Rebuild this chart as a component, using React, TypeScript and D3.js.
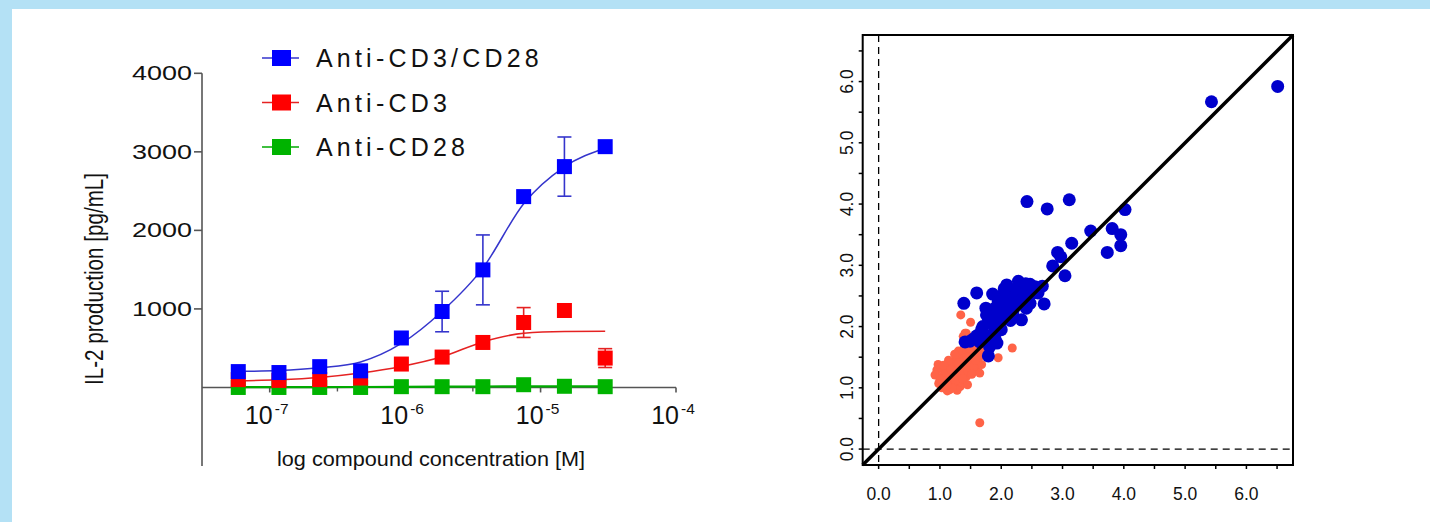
import React from "react";
import * as d3 from "d3";

const W = 1430;
const H = 522;
const FONT = "'Liberation Sans', Arial, Helvetica, sans-serif";

// ---- left panel: IL-2 dose response ----
const concentrations = [5.86e-8, 1.17e-7, 2.34e-7, 4.69e-7, 9.38e-7, 1.875e-6, 3.75e-6, 7.5e-6, 1.5e-5, 3.0e-5];

const cd3cd28Mean = [202, 190, 265, 212, 630, 967, 1497, 2430, 2812, 3066];
const cd3cd28Err = [0, 0, 0, 0, 0, 258, 445, 0, 377, 0];
const cd3cd28Fit = [205, 215, 250, 325, 560, 970, 1520, 2340, 2810, 3045];

const cd3Mean = [100, 90, 100, 120, 298, 387, 573, 827, 980, 374];
const cd3Err = [0, 0, 0, 0, 0, 0, 0, 190, 0, 120];
const cd3Fit = [85, 98, 127, 183, 267, 390, 580, 690, 712, 715];

const cd28Mean = [0, 0, 0, 0, 10, 10, 10, 35, 15, 10];
const cd28Err = [0, 0, 0, 0, 0, 0, 0, 0, 0, 0];
const cd28Fit = [5, 5, 5, 6, 8, 10, 12, 13, 14, 14];

const il2Ticks = [1000, 2000, 3000, 4000];
const doseMajor = [1e-7, 1e-6, 1e-5, 1e-4];
const doseMinor = [10 ** -6.5, 10 ** -5.5, 10 ** -4.5];

// ---- right panel: scatter ----
const lowGroup: [number, number][] = [
  [1.34, 2.19], [1.5, 2.07], [1.43, 1.89], [2.18, 1.65], [1.95, 1.49], [1.65, 0.43],
  [0.95, 1.29], [1.0, 1.13], [1.16, 0.97], [1.33, 1.02], [1.43, 1.18], [1.6, 1.35],
  [1.65, 1.51], [1.49, 1.51], [1.38, 1.62], [1.33, 1.4], [1.19, 1.4], [1.08, 1.29],
  [1.11, 1.13], [1.27, 1.18], [1.38, 1.84], [1.49, 1.73], [0.92, 1.21], [1.22, 1.05],
  [1.57, 1.29], [1.65, 1.24], [1.68, 1.38], [1.03, 1.0], [1.13, 1.35], [1.27, 1.32],
  [1.43, 1.38], [1.54, 1.43], [1.52, 1.62], [1.6, 1.67], [1.33, 1.51], [1.22, 1.24],
  [1.35, 1.1], [1.08, 1.08], [0.97, 1.38], [1.75, 1.6], [1.85, 1.7], [1.7, 1.75],
  [1.41, 1.89], [1.25, 1.45], [1.45, 1.55], [1.55, 1.55], [1.18, 1.2], [1.3, 1.25],
  [1.4, 1.3], [1.5, 1.4], [1.05, 1.2], [1.12, 0.95], [1.28, 0.96], [1.45, 1.05],
  [1.02, 1.15], [1.1, 1.25], [1.15, 1.1], [1.2, 1.32], [1.25, 1.12], [1.3, 1.4],
  [1.35, 1.22], [1.4, 1.45], [1.45, 1.28], [1.5, 1.6], [1.55, 1.35], [1.6, 1.5],
  [1.62, 1.58], [1.47, 1.65], [1.57, 1.72], [1.36, 1.56], [1.14, 1.45], [1.06, 1.37],
  [0.98, 1.07], [1.2, 1.0], [1.37, 1.15], [1.58, 1.45], [1.68, 1.6], [1.42, 1.7],
  [1.3, 1.6], [1.24, 1.55], [1.18, 1.3], [1.52, 1.22], [1.44, 1.5], [1.12, 1.05],
];

const highGroup: [number, number][] = [
  [6.51, 5.92], [5.43, 5.67], [2.42, 4.04], [3.11, 4.07], [2.75, 3.92], [4.02, 3.91],
  [3.46, 3.56], [3.81, 3.6], [3.95, 3.5], [3.95, 3.32], [3.73, 3.21], [3.15, 3.36],
  [2.92, 3.21], [2.97, 3.14], [2.84, 2.99], [3.04, 2.83], [2.7, 2.37], [2.67, 2.66],
  [1.39, 2.38], [1.6, 2.55], [1.86, 2.53], [2.09, 2.68], [2.28, 2.74], [2.47, 2.69],
  [2.39, 2.57], [2.52, 2.55], [2.17, 2.44], [2.39, 2.38], [2.47, 2.38], [2.03, 2.3],
  [2.19, 2.25], [2.41, 2.3], [1.76, 2.19], [2.33, 2.11], [1.98, 2.06], [2.1, 2.15],
  [1.68, 1.95], [1.87, 1.89], [2.0, 1.95], [1.49, 1.76], [1.41, 1.75], [1.81, 1.67],
  [1.93, 1.73], [1.79, 1.52], [2.2, 2.6], [2.3, 2.5], [2.15, 2.6], [2.05, 2.45],
  [1.95, 2.2], [2.25, 2.35], [1.85, 2.05], [1.6, 1.85], [1.55, 1.8], [2.32, 2.63],
  [1.72, 1.8], [1.9, 2.3], [2.0, 2.5], [2.1, 2.35], [2.25, 2.55], [2.35, 2.45],
  [2.45, 2.5], [2.12, 2.2], [1.95, 2.4], [2.05, 2.62], [2.4, 2.7], [2.2, 2.15],
  [1.8, 2.1], [1.7, 2.0], [1.9, 1.8], [1.65, 1.75], [2.15, 2.1], [2.55, 2.65],
  [2.6, 2.55], [1.75, 2.3],
];

const scatterTicks = [0, 0.5, 1, 1.5, 2, 2.5, 3, 3.5, 4, 4.5, 5, 5.5, 6, 6.5];
const scatterLabels = [0, 1, 2, 3, 4, 5, 6];

// draw order: last legend entry at the back
const series = [
  { name: "Anti-CD28", color: "#00b300", line: "#00aa00", lw: 2.2, mean: cd28Mean, err: cd28Err, fit: cd28Fit },
  { name: "Anti-CD3", color: "#ff0000", line: "#e52222", lw: 1.5, mean: cd3Mean, err: cd3Err, fit: cd3Fit },
  { name: "Anti-CD3/CD28", color: "#0000ff", line: "#3535cc", lw: 1.5, mean: cd3cd28Mean, err: cd3cd28Err, fit: cd3cd28Fit },
];
const legendOrder = ["Anti-CD3/CD28", "Anti-CD3", "Anti-CD28"];

const DoseChart = () => {
  const x = d3.scaleLog().domain([10 ** -7.5, 1e-4]).range([202, 676]);
  const y = d3.scaleLinear().domain([-1000, 4000]).range([466, 73.3]);
  const axisColor = "#555";
  const sq = 15;

  const line = d3
    .line<number>()
    .x((_, i) => x(concentrations[i]))
    .y((d) => y(d))
    .curve(d3.curveMonotoneX);

  return (
    <g fontFamily={FONT}>
      {/* axes */}
      <line x1={x.range()[0]} x2={x.range()[0]} y1={y(4000)} y2={y(-1000)} stroke={axisColor} strokeWidth={1.6} />
      <line x1={x.range()[0]} x2={x.range()[1]} y1={y(0)} y2={y(0)} stroke={axisColor} strokeWidth={1.6} />
      {il2Ticks.map((t) => (
        <g key={t}>
          <line x1={x.range()[0] - 8} x2={x.range()[0]} y1={y(t)} y2={y(t)} stroke={axisColor} strokeWidth={1.6} />
          <text x={132} y={y(t) + 7} fontSize={20.5} textLength={60} lengthAdjust="spacingAndGlyphs" fill="#111">
            {t}
          </text>
        </g>
      ))}
      {doseMajor.map((t) => (
        <g key={t}>
          <line x1={x(t)} x2={x(t)} y1={y(0)} y2={y(0) + 5} stroke={axisColor} strokeWidth={1.6} />
          <text x={x(t) - 3} y={424} textAnchor="middle" fill="#111" fontSize={25}>
            10
            <tspan fontSize={15.5} dy={-10} dx={2}>
              {Math.round(Math.log10(t))}
            </tspan>
          </text>
        </g>
      ))}
      {doseMinor.map((t) => (
        <line key={t} x1={x(t)} x2={x(t)} y1={y(0)} y2={y(0) + 4} stroke={axisColor} strokeWidth={1.4} />
      ))}
      <text x={431} y={466} textAnchor="middle" fontSize={21} fill="#111" textLength={308} lengthAdjust="spacingAndGlyphs">
        log compound concentration [M]
      </text>
      <text
        transform={`translate(103, 279) scale(1.25, 1) rotate(-90)`}
        textAnchor="middle"
        fontSize={20}
        fill="#111"
        textLength={212}
        lengthAdjust="spacingAndGlyphs"
      >
        IL-2 production [pg/mL]
      </text>

      {/* series */}
      {series.map((s) => (
        <g key={s.name}>
          <path d={line(s.fit) || ""} fill="none" stroke={s.line} strokeWidth={s.lw} />
          {s.mean.map((m, i) =>
            s.err[i] > 0 ? (
              <g key={i} stroke={s.line} strokeWidth={1.6}>
                <line x1={x(concentrations[i])} x2={x(concentrations[i])} y1={y(m + s.err[i])} y2={y(m - s.err[i])} />
                <line x1={x(concentrations[i]) - 7} x2={x(concentrations[i]) + 7} y1={y(m + s.err[i])} y2={y(m + s.err[i])} />
                <line x1={x(concentrations[i]) - 7} x2={x(concentrations[i]) + 7} y1={y(m - s.err[i])} y2={y(m - s.err[i])} />
              </g>
            ) : null
          )}
          {s.mean.map((m, i) => (
            <rect key={i} x={x(concentrations[i]) - sq / 2} y={y(m) - sq / 2} width={sq} height={sq} fill={s.color} />
          ))}
        </g>
      ))}

      {/* legend */}
      {legendOrder.map((name, i) => {
        const s = series.find((d) => d.name === name)!;
        const cy = 58 + i * 44.5;
        return (
          <g key={name}>
            <line x1={262} x2={299} y1={cy} y2={cy} stroke={s.line} strokeWidth={1.6} />
            <rect x={272} y={cy - 8} width={19} height={16} fill={s.color} />
            <text x={316} y={cy + 9} fontSize={25} letterSpacing={4.2} fill="#111">
              {name}
            </text>
          </g>
        );
      })}
    </g>
  );
};

const ScatterChart = () => {
  const x = d3.scaleLinear().domain([-0.26, 6.76]).range([862.7, 1293]);
  const y = d3.scaleLinear().domain([-0.26, 6.76]).range([465, 35]);
  const [x0, x1] = x.range();
  const [y0, y1] = y.range();
  const fmt = d3.format(".1f");
  const diag = x.domain();

  return (
    <g fontFamily={FONT}>
      <line x1={x(0)} x2={x(0)} y1={y1} y2={y0} stroke="#000" strokeWidth={1.3} strokeDasharray="7,5" />
      <line x1={x0} x2={x1} y1={y(0)} y2={y(0)} stroke="#000" strokeWidth={1.3} strokeDasharray="7,5" />

      {lowGroup.map((d, i) => (
        <circle key={i} cx={x(d[0])} cy={y(d[1])} r={4.5} fill="#ff6347" />
      ))}
      {highGroup.map((d, i) => (
        <circle key={i} cx={x(d[0])} cy={y(d[1])} r={6.5} fill="#0000cc" />
      ))}

      <line x1={x(diag[0])} y1={y(diag[0])} x2={x(diag[1])} y2={y(diag[1])} stroke="#000" strokeWidth={3.5} />

      <rect x={x0} y={y1} width={x1 - x0} height={y0 - y1} fill="none" stroke="#000" strokeWidth={2} />

      {scatterTicks.map((t) => (
        <g key={t} stroke="#000" strokeWidth={1.5}>
          <line x1={x(t)} x2={x(t)} y1={y0} y2={y0 + 4} />
          <line x1={x0 - 4} x2={x0} y1={y(t)} y2={y(t)} />
        </g>
      ))}
      {scatterLabels.map((t) => (
        <g key={t} fill="#111" fontSize={17.5}>
          <text x={x(t)} y={500} textAnchor="middle">
            {fmt(t)}
          </text>
          <text transform={`translate(853, ${y(t)}) rotate(-90)`} textAnchor="middle">
            {fmt(t)}
          </text>
        </g>
      ))}
    </g>
  );
};

export default function App() {
  return (
    <svg width={W} height={H} style={{ position: "absolute", left: 0, top: 0, display: "block" }}>
      <rect x={0} y={0} width={W} height={H} fill="#b4e1f5" />
      <rect x={12} y={9} width={W - 12} height={H - 9} fill="#fff" />
      <DoseChart />
      <ScatterChart />
    </svg>
  );
}
